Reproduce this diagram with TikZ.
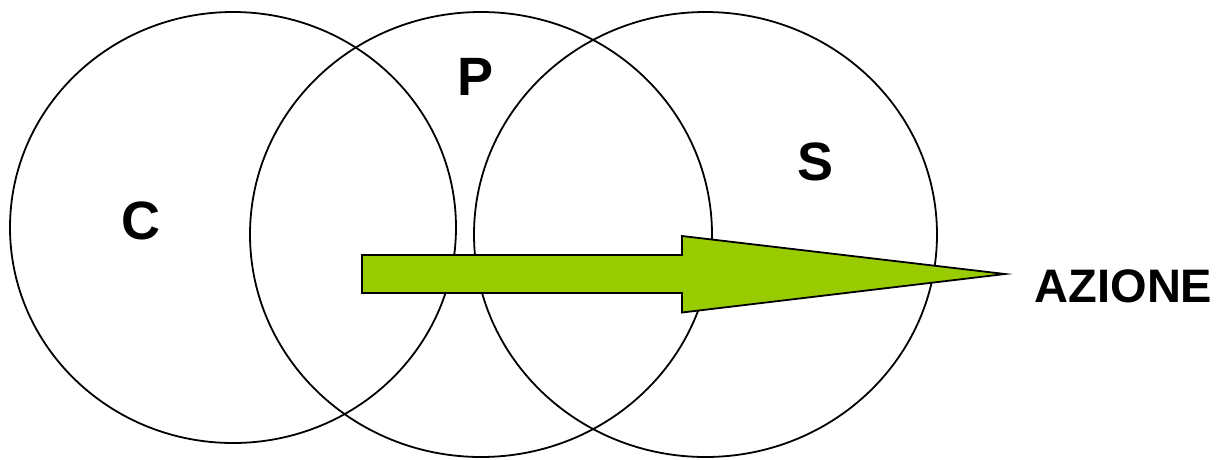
\documentclass[tikz,border=0pt]{standalone}
\usepackage{fontspec}
\setmainfont{Liberation Sans}
\definecolor{actiongreen}{HTML}{99CC00}
\begin{document}
\begin{tikzpicture}[x=1pt,y=-1pt,
  ring/.style={draw=black,line width=1.8pt},
  letter/.style={inner sep=0pt,anchor=base,font=\fontsize{54}{54}\selectfont\bfseries},
  label/.style={inner sep=0pt,anchor=base,font=\fontsize{47}{47}\selectfont\bfseries},
  actionarrow/.style={draw=black,line width=1.8pt,line join=miter,fill=actiongreen}]
\useasboundingbox (0,0) rectangle (1228,459);
% the three overlapping rings
\draw[ring] (233,227.5) ellipse [x radius=223, y radius=215.5];
\draw[ring] (481,234.5) ellipse [x radius=231, y radius=222.5];
\draw[ring] (705.5,234.5) ellipse [x radius=231.5, y radius=222.5];
% labels of the rings
\node[letter] (C) at (141,239) {C};
\node[letter] (P) at (476,95) {P};
\node[letter] (S) at (815,180) {S};
% the action arrow
\coordinate (tail) at (362,274);
\coordinate (tip) at (1005,274);
\draw[actionarrow] (362,255) -- (682,255) -- (682,236) -- (tip)
  -- (682,312.5) -- (682,293) -- (362,293) -- cycle;
\node[label] (azione) at (1123.5,302) {AZIONE};
\end{tikzpicture}
\end{document}
